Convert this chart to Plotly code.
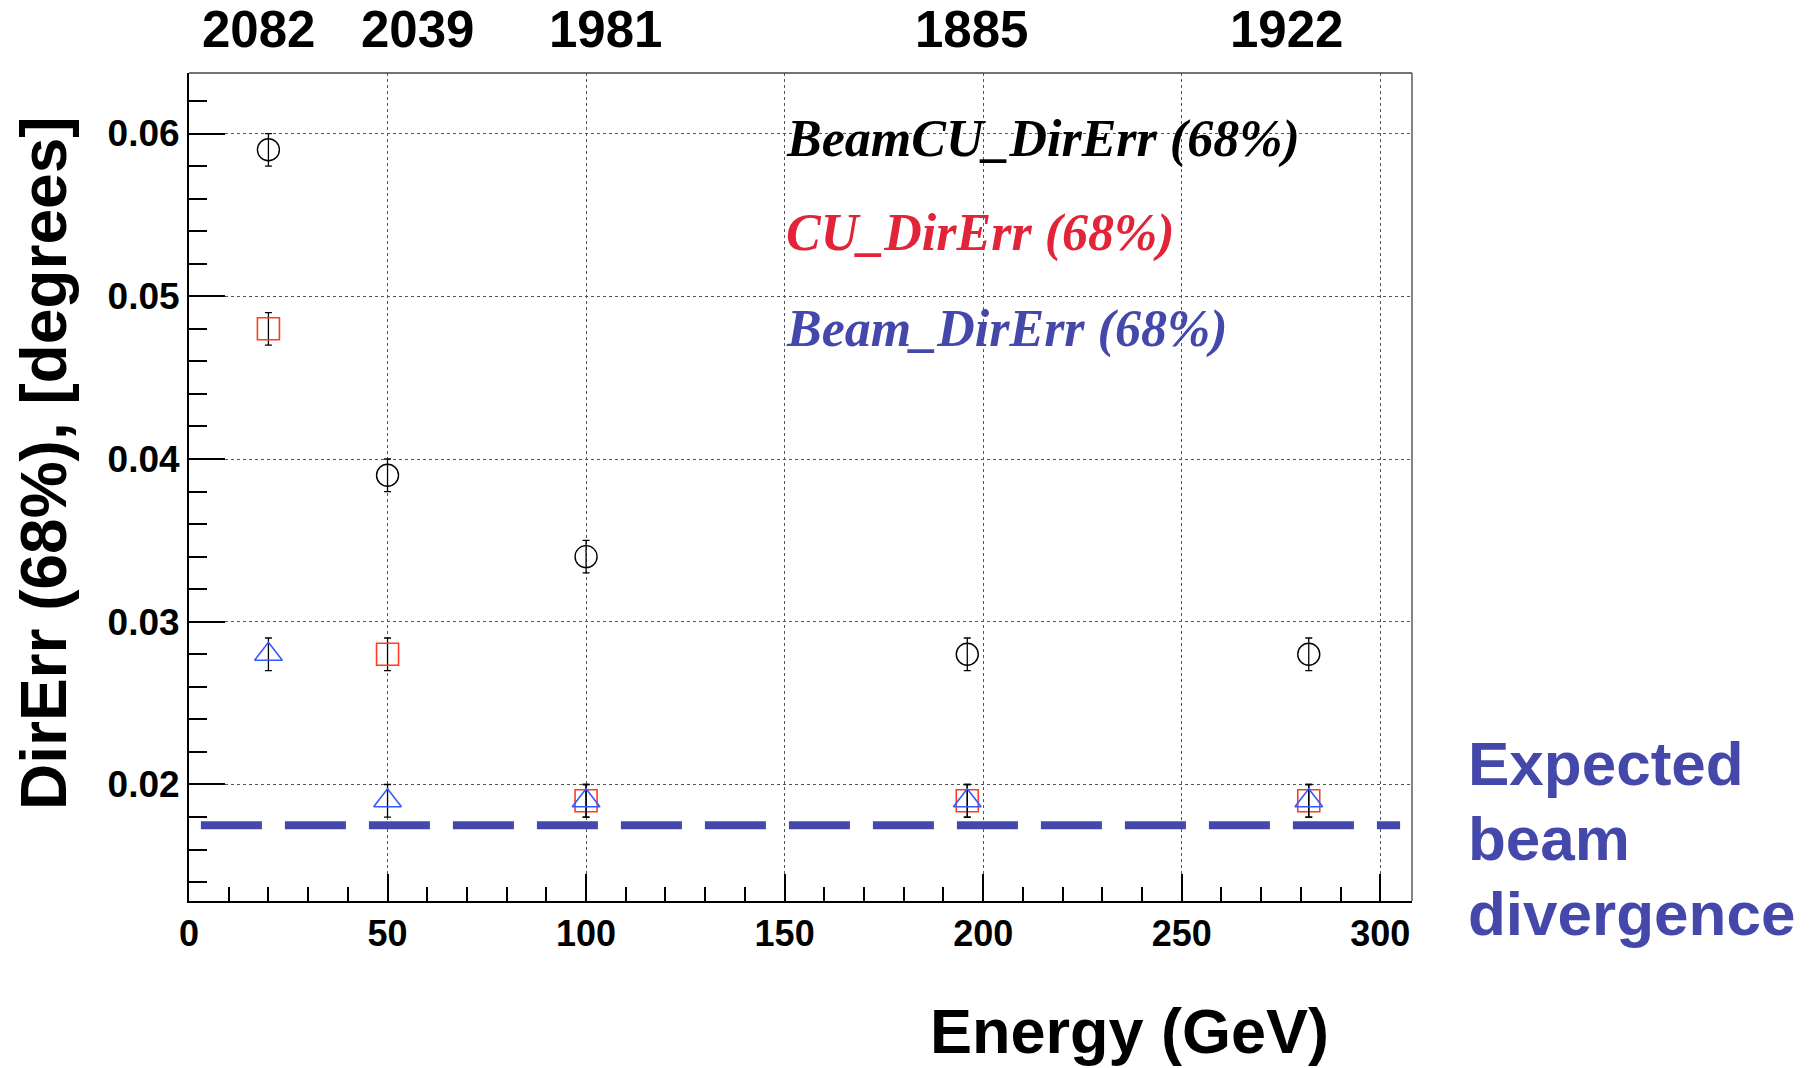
import plotly.graph_objects as go

# ---- data ----
energy_gev = [20, 50, 100, 196, 282]
beamcu_direrr = [0.059, 0.039, 0.034, 0.028, 0.028]
cu_direrr = [0.048, 0.028, 0.019, 0.019, 0.019]
beam_direrr = [0.028, 0.019, 0.019, 0.019, 0.019]
beamcu_err = [0.001, 0.001, 0.001, 0.001, 0.001]
cu_err = [0.001, 0.001, 0.001, 0.001, 0.001]
beam_err = [0.001, 0.001, 0.001, 0.001, 0.001]
event_counts = ["2082", "2039", "1981", "1885", "1922"]
count_label_x = [17.5, 57.5, 105, 197, 276.5]   # label placement (axis units)
expected_divergence = 0.0175
divergence_x = [3, 305]

W, H = 1817, 1068
L, R, T, B = 189, 1412, 73, 901

def pxx(x):
    return (x - L) / (R - L)

def pxy(y):
    return (B - y) / (B - T)

SANS = "Liberation Sans, Arial, sans-serif"
SERIF = "Liberation Serif, Times New Roman, serif"
BLUE = "rgb(68,72,170)"
RED = "rgb(226,36,56)"

fig = go.Figure()

err_style = dict(type="data", color="black", thickness=1.3, width=3.5)

fig.add_trace(go.Scatter(
    x=energy_gev, y=beamcu_direrr, mode="markers",
    marker=dict(symbol="circle-open", size=22, color="black", line=dict(width=1.4, color="black")),
    error_y=dict(array=beamcu_err, **err_style), showlegend=False))
fig.add_trace(go.Scatter(
    x=energy_gev, y=cu_direrr, mode="markers",
    marker=dict(symbol="square-open", size=22, color="rgb(255,60,30)", line=dict(width=1.6, color="rgb(255,60,30)")),
    error_y=dict(array=cu_err, **err_style), showlegend=False))
fig.add_trace(go.Scatter(
    x=energy_gev, y=beam_direrr, mode="markers",
    marker=dict(symbol="triangle-up-open", size=24, color="rgb(50,90,255)", line=dict(width=1.6, color="rgb(50,90,255)")),
    error_y=dict(array=beam_err, **err_style), showlegend=False))
fig.add_trace(go.Scatter(
    x=divergence_x, y=[expected_divergence] * len(divergence_x), mode="lines",
    line=dict(color=BLUE, width=8, dash="61px,23px"), showlegend=False))

annotations = []
# event counts on top
for lx, txt in zip(count_label_x, event_counts):
    annotations.append(dict(x=lx, xref="x", y=pxy(30), yref="paper", text=txt,
                            showarrow=False, xanchor="center", yanchor="middle",
                            font=dict(family=SANS, size=51, color="black", weight="bold")))
# legend-like texts
for txt, col, ypx in [("BeamCU_DirErr (68%)", "black", 139),
                      ("CU_DirErr (68%)", RED, 233),
                      ("Beam_DirErr (68%)", BLUE, 329)]:
    annotations.append(dict(x=pxx(784), xref="paper", y=pxy(ypx), yref="paper", text=txt,
                            showarrow=False, xanchor="left", yanchor="middle",
                            font=dict(family=SERIF, size=52, color=col, weight="bold", style="italic")))
# expected beam divergence note
for txt, ypx in [("Expected", 763), ("beam", 838), ("divergence", 913)]:
    annotations.append(dict(x=pxx(1466), xref="paper", y=pxy(ypx), yref="paper", text=txt,
                            showarrow=False, xanchor="left", yanchor="middle",
                            font=dict(family=SANS, size=62, color=BLUE, weight="bold")))
# axis titles
annotations.append(dict(x=pxx(1129), xref="paper", y=pxy(1031), yref="paper", text="Energy (GeV)",
                        showarrow=False, xanchor="center", yanchor="middle",
                        font=dict(family=SANS, size=63, color="black", weight="bold")))
annotations.append(dict(x=pxx(44), xref="paper", y=pxy(463), yref="paper", text="DirErr (68%), [degrees]",
                        showarrow=False, xanchor="center", yanchor="middle", textangle=-90,
                        font=dict(family=SANS, size=64, color="black", weight="bold")))

fig.update_layout(
    width=W, height=H, autosize=False,
    margin=dict(l=L, r=W - R, t=T, b=H - B, pad=0),
    plot_bgcolor="white", paper_bgcolor="white",
    annotations=annotations,
    shapes=[
        dict(type="line", xref="paper", yref="paper", x0=0, x1=1, y0=1, y1=1,
             line=dict(color="#444", width=1.3)),
        dict(type="line", xref="paper", yref="paper", x0=1, x1=1, y0=0, y1=1,
             line=dict(color="#444", width=1.3)),
    ],
)
fig.update_xaxes(
    range=[0, 308], tick0=0, dtick=50, ticks="inside", ticklen=27, tickwidth=1.5, tickcolor="black",
    showline=True, linecolor="black", linewidth=2, zeroline=False,
    showgrid=True, gridcolor="#555", griddash="dot", gridwidth=1,
    minor=dict(dtick=10, tick0=0, ticks="inside", ticklen=14, tickwidth=1.5, tickcolor="black", showgrid=False),
    tickfont=dict(family=SANS, size=36, color="black", weight="bold"),
)
fig.update_yaxes(
    range=[0.01284, 0.06372], tick0=0, dtick=0.01, tickformat=".2f",
    ticks="inside", ticklen=36, tickwidth=1.5, tickcolor="black",
    showline=True, linecolor="black", linewidth=2, zeroline=False,
    showgrid=True, gridcolor="#555", griddash="dot", gridwidth=1,
    minor=dict(dtick=0.002, tick0=0, ticks="inside", ticklen=18, tickwidth=1.5, tickcolor="black", showgrid=False),
    tickfont=dict(family=SANS, size=37, color="black", weight="bold"),
)

fig.write_html("out.html", config={"displayModeBar": False},
               post_script="document.body.style.margin='0';")
